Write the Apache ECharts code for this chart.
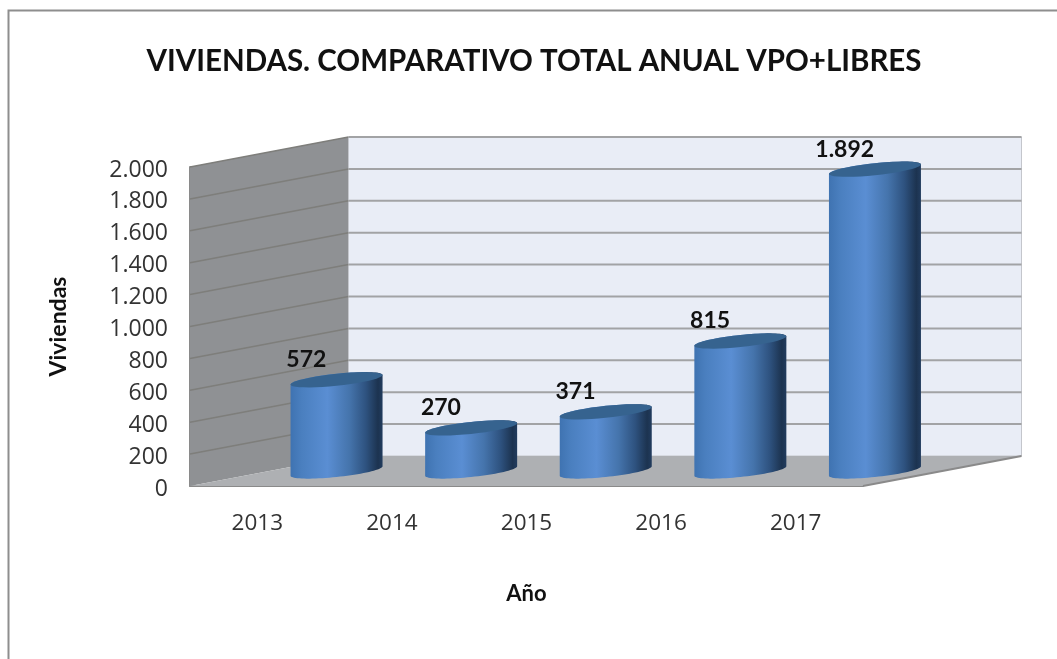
<!DOCTYPE html>
<html>
<head>
<meta charset="utf-8">
<title>Viviendas</title>
<script src="https://cdn.jsdelivr.net/npm/echarts@6/dist/echarts.min.js"></script>
<style>
html, body { margin: 0; padding: 0; background: #fff; }
/* la referencia es una captura algo borrosa */
#chart { width: 1057px; height: 659px; filter: blur(0.4px); }
</style>
</head>
<body>
<div id="chart"></div>
<script>
var years = ['2013', '2014', '2015', '2016', '2017'];
var viviendas = [572, 270, 371, 815, 1892];
var yTicks = [200, 400, 600, 800, 1000, 1200, 1400, 1600, 1800, 2000];

// profundidad del falso 3D
var DEPTH_X = 158.5;
var DEPTH_Y = 30;
var COL_W = 92;
var TILT = 9.5;
var ELLIPSE_B = 6;
var FONT = 'Lato';
var FONT_AXIS = '"Open Sans"';

function miles(v) {
    return String(v).replace(/\B(?=(\d{3})+$)/g, '.');
}

function renderWalls(params, api) {
    var r = params.coordSys;
    var x0 = r.x, x1 = r.x + r.width;
    var top = r.y, bottom = r.y + r.height;
    return {
        type: 'group',
        children: [{
            type: 'polygon',
            shape: { points: [[x0, top], [x0 + DEPTH_X, top - DEPTH_Y], [x0 + DEPTH_X, bottom - DEPTH_Y], [x0, bottom]] },
            style: { fill: '#8f9194' }
        }, {
            type: 'rect',
            shape: { x: x0 + DEPTH_X, y: top - DEPTH_Y, width: r.width, height: r.height },
            style: { fill: '#e9edf6', stroke: '#c4c6cc', lineWidth: 1 }
        }, {
            type: 'polygon',
            shape: { points: [[x0, bottom], [x0 + DEPTH_X, bottom - DEPTH_Y], [x1 + DEPTH_X, bottom - DEPTH_Y], [x1, bottom]] },
            style: { fill: '#aeb0b3' }
        }, {
            type: 'line',
            shape: { x1: x1, y1: bottom, x2: x1 + DEPTH_X, y2: bottom - DEPTH_Y },
            style: { stroke: '#8a8a8a', lineWidth: 2 }
        }]
    };
}

function renderGridLine(params, api) {
    var r = params.coordSys;
    var y = api.coord([0, api.value(1)])[1];
    return {
        type: 'group',
        children: [{
            type: 'line',
            shape: { x1: r.x, y1: y, x2: r.x + DEPTH_X, y2: y - DEPTH_Y },
            style: { stroke: '#7e7e7b', lineWidth: 1.5 }
        }, {
            type: 'line',
            shape: { x1: r.x + DEPTH_X, y1: y - DEPTH_Y, x2: r.x + r.width + DEPTH_X, y2: y - DEPTH_Y },
            style: { stroke: '#a2a3a5', lineWidth: 2 }
        }]
    };
}

// puntos de una elipse inclinada, de t0 a t1 (radianes)
function arc(cx, cy, t0, t1) {
    var pts = [];
    var n = 40;
    for (var i = 0; i <= n; i++) {
        var t = t0 + (t1 - t0) * i / n;
        var dx = Math.cos(t) * COL_W / 2;
        pts.push([cx + dx, cy - dx * TILT / COL_W + Math.sin(t) * ELLIPSE_B]);
    }
    return pts;
}

function renderColumn(params, api) {
    var v = api.value(1);
    var base = api.coord([api.value(0), 0]);
    var head = api.coord([api.value(0), v]);
    var cx = base[0] + DEPTH_X / 2;
    var yBase = base[1] - DEPTH_Y / 2;
    var yHead = head[1] - DEPTH_Y / 2;
    var side = arc(cx, yBase, 0, Math.PI).concat(arc(cx, yHead, Math.PI, 2 * Math.PI));
    return {
        type: 'group',
        children: [{
            type: 'polygon',
            shape: { points: side },
            style: {
                fill: new echarts.graphic.LinearGradient(0, 0, 1, 0, [
                    { offset: 0, color: '#3f73b1' },
                    { offset: 0.12, color: '#4a7fbf' },
                    { offset: 0.4, color: '#5a8ed3' },
                    { offset: 0.64, color: '#4574ac' },
                    { offset: 0.82, color: '#2e527f' },
                    { offset: 0.95, color: '#1c3350' },
                    { offset: 1, color: '#223c5e' }
                ])
            }
        }, {
            type: 'polygon',
            shape: { points: arc(cx, yHead, 0, 2 * Math.PI) },
            style: { fill: '#36638f' }
        }, {
            type: 'text',
            style: {
                x: base[0] + 49,
                y: yHead - 20,
                text: miles(v),
                fill: '#111',
                font: 'bold 23px ' + FONT,
                align: 'center',
                verticalAlign: 'middle'
            }
        }]
    };
}

var chart = echarts.init(document.getElementById('chart'));
chart.setOption({
    animation: false,
    title: {
        text: 'VIVIENDAS. COMPARATIVO TOTAL ANUAL VPO+LIBRES',
        left: 529,
        top: 41,
        textAlign: 'center',
        textStyle: { color: '#111', fontFamily: FONT, fontWeight: 'bold', fontSize: 29.5 }
    },
    grid: { left: 190, top: 167, width: 673, height: 319 },
    xAxis: {
        type: 'category',
        data: years,
        name: 'Año',
        nameLocation: 'middle',
        nameGap: 97,
        nameTextStyle: { color: '#111', fontFamily: FONT, fontWeight: 'bold', fontSize: 22 },
        axisLine: { show: true, lineStyle: { color: '#8a8a8a', width: 2 } },
        axisTick: { show: false },
        axisLabel: { color: '#333', fontFamily: FONT_AXIS, fontSize: 22.5, margin: 26 }
    },
    yAxis: {
        type: 'value',
        min: 0,
        max: 2000,
        interval: 200,
        name: 'Viviendas',
        nameLocation: 'middle',
        nameGap: 120,
        nameTextStyle: { color: '#111', fontFamily: FONT, fontWeight: 'bold', fontSize: 23 },
        axisLine: { show: true, lineStyle: { color: '#8a8a8a', width: 2 } },
        axisTick: { show: false },
        splitLine: { show: false },
        axisLabel: { color: '#333', fontFamily: FONT_AXIS, fontSize: 23, margin: 22, verticalAlign: 'top', lineHeight: 6, formatter: miles }
    },
    graphic: [{
        type: 'polyline',
        shape: { points: [[8.5, 659], [8.5, 10.5], [1057, 10.5]] },
        style: { stroke: '#8e8e8e', lineWidth: 2, fill: null }
    }],
    series: [{
        type: 'custom',
        name: 'paredes',
        z: 1,
        silent: true,
        renderItem: renderWalls,
        data: [[0, 0]]
    }, {
        type: 'custom',
        name: 'rejilla',
        z: 2,
        silent: true,
        renderItem: renderGridLine,
        data: yTicks.map(function (t) { return [0, t]; })
    }, {
        type: 'custom',
        name: 'Viviendas',
        z: 3,
        renderItem: renderColumn,
        data: viviendas.map(function (v, i) { return [i, v]; })
    }]
});
</script>
</body>
</html>
